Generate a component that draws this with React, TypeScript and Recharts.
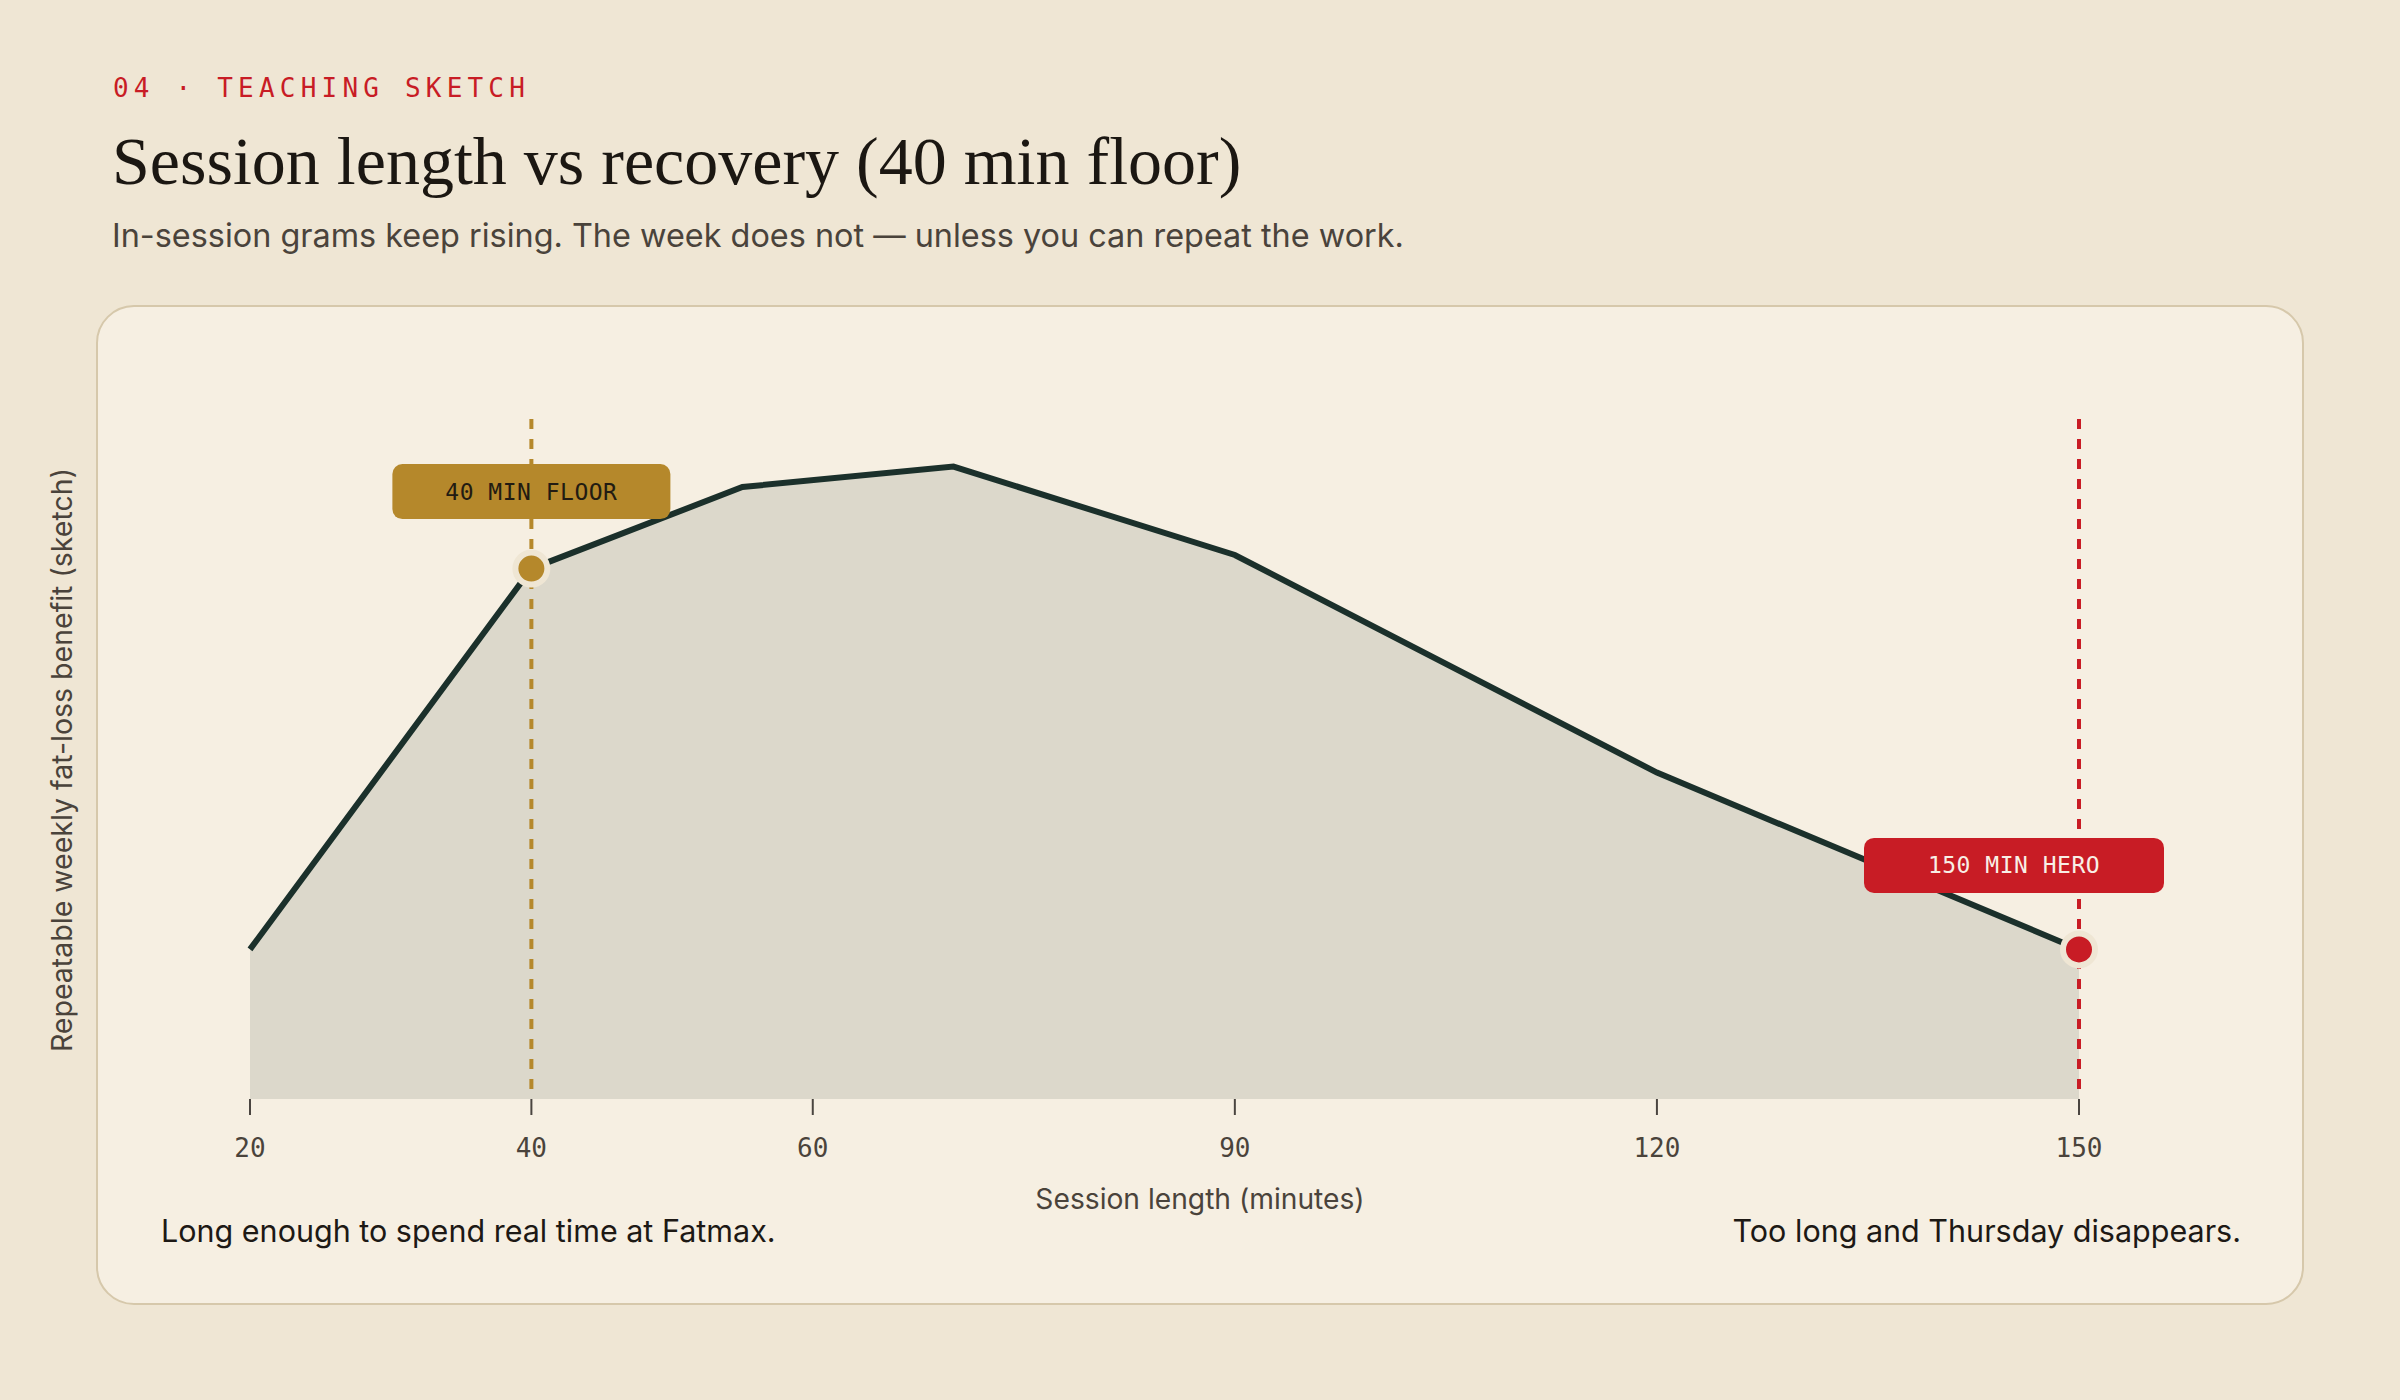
import React from 'react'
import {
  ComposedChart,
  Area,
  XAxis,
  YAxis,
  ReferenceLine,
  ReferenceDot,
  Label,
} from 'recharts'

// session length (minutes) and sketched weekly benefit
const minutes = [20, 40, 55, 70, 90, 120, 150]
const benefit = [22, 78, 90, 93, 80, 48, 22]
const xTicks = [20, 40, 60, 90, 120, 150]

const floorMin = 40
const heroMin = 150
const floorLabel = '40 MIN FLOOR'
const heroLabel = '150 MIN HERO'

const data = minutes.map((m, i) => ({ min: m, benefit: benefit[i] }))
const valueAt = (m: number) => benefit[minutes.indexOf(m)]

const PAGE_BG = '#efe6d4'
const CARD_BG = '#f6efe2'
const INK = '#1b302b'
const GOLD = '#b5882b'
const RED = '#c81c25'
const MONO = '"DejaVu Sans Mono", monospace'
const SANS = 'Inter, "Noto Sans", sans-serif'

function Badge(props: any) {
  const { viewBox, text, bg, color, dx, dy, w } = props
  if (!viewBox) return null
  const cx = viewBox.x + viewBox.width / 2 + dx
  const cy = viewBox.y + viewBox.height / 2 + dy
  const h = 55
  return (
    <g>
      <rect x={cx - w / 2} y={cy - h / 2} width={w} height={h} rx={10} fill={bg} />
      <text
        x={cx}
        y={cy + 8}
        textAnchor="middle"
        fontFamily={MONO}
        fontSize={23}
        letterSpacing={0.5}
        fill={color}
      >
        {text}
      </text>
    </g>
  )
}

export default function App() {
  return (
    <div
      style={{
        position: 'absolute',
        left: 0,
        top: 0,
        width: 2400,
        height: 1400,
        background: PAGE_BG,
        overflow: 'hidden',
      }}
    >
      <div
        style={{
          position: 'absolute',
          left: 113,
          top: 75,
          fontFamily: MONO,
          fontSize: 26,
          lineHeight: 1,
          letterSpacing: '0.2em',
          color: RED,
          whiteSpace: 'nowrap',
        }}
      >
        04 · TEACHING SKETCH
      </div>
      <div
        style={{
          position: 'absolute',
          left: 112,
          top: 127,
          fontFamily: '"Liberation Serif", serif',
          fontSize: 68,
          lineHeight: 1,
          color: '#1b1712',
          whiteSpace: 'nowrap',
        }}
      >
        Session length vs recovery (40 min floor)
      </div>
      <div
        style={{
          position: 'absolute',
          left: 112,
          top: 220,
          fontFamily: SANS,
          fontSize: 32.4,
          lineHeight: 1,
          color: '#4a433b',
          whiteSpace: 'nowrap',
        }}
      >
        In-session grams keep rising. The week does not — unless you can repeat the work.
      </div>

      <div
        style={{
          position: 'absolute',
          left: 96,
          top: 305,
          width: 2208,
          height: 1000,
          boxSizing: 'border-box',
          border: '2px solid #d6c8ab',
          borderRadius: 38,
          background: CARD_BG,
        }}
      />

      <div
        style={{
          position: 'absolute',
          left: 161,
          top: 1216,
          fontFamily: SANS,
          fontSize: 30.5,
          lineHeight: 1,
          color: '#1d1915',
          whiteSpace: 'nowrap',
        }}
      >
        Long enough to spend real time at Fatmax.
      </div>
      <div
        style={{
          position: 'absolute',
          right: 2400 - 2241,
          top: 1216,
          fontFamily: SANS,
          fontSize: 30.5,
          lineHeight: 1,
          color: '#1d1915',
          whiteSpace: 'nowrap',
        }}
      >
        Too long and Thursday disappears.
      </div>

      <div style={{ position: 'absolute', left: 0, top: 0 }}>
        <ComposedChart
          width={2400}
          height={1400}
          data={data}
          margin={{ top: 419, right: 321, bottom: 181, left: 100 }}
        >
          <XAxis
            type="number"
            dataKey="min"
            domain={[20, 150]}
            ticks={xTicks}
            height={120}
            axisLine={false}
            tickLine={{ stroke: '#4a4540', strokeWidth: 2 }}
            tickSize={16}
            tickMargin={24}
            tick={{ fill: '#4a433b', fontSize: 26, fontFamily: MONO }}
          >
            <Label
              content={(p: any) => (
                <text
                  x={1200}
                  y={p.viewBox.y + 110}
                  textAnchor="middle"
                  fontFamily={SANS}
                  fontSize={28.2}
                  fill="#4a433b"
                >
                  Session length (minutes)
                </text>
              )}
            />
          </XAxis>
          <YAxis
            type="number"
            domain={[0, 100]}
            width={150}
            tick={false}
            axisLine={false}
            tickLine={false}
          >
            <Label
              content={(p: any) => {
                const cy = p.viewBox.y + p.viewBox.height / 2 + 1
                return (
                  <text
                    x={72}
                    y={cy}
                    transform={`rotate(-90, 72, ${cy})`}
                    textAnchor="middle"
                    fontFamily={SANS}
                    fontSize={28.5}
                    fill="#4a433b"
                  >
                    Repeatable weekly fat-loss benefit (sketch)
                  </text>
                )
              }}
            />
          </YAxis>
          <Area
            type="linear"
            dataKey="benefit"
            stroke={INK}
            strokeWidth={6}
            fill="#dcd8cb"
            fillOpacity={1}
            dot={false}
            activeDot={false}
            isAnimationActive={false}
          />
          <ReferenceLine
            x={floorMin}
            stroke={GOLD}
            strokeWidth={4}
            strokeDasharray="10 10"
            strokeDashoffset={10}
          />
          <ReferenceLine
            x={heroMin}
            stroke={RED}
            strokeWidth={4}
            strokeDasharray="10 10"
            strokeDashoffset={10}
          />
          <ReferenceDot
            x={floorMin}
            y={valueAt(floorMin)}
            r={16}
            fill={GOLD}
            stroke="#efe6d4"
            strokeWidth={6}
            label={(p: any) => (
              <Badge {...p} text={floorLabel} bg={GOLD} color="#221b12" dx={0} dy={-77} w={278} />
            )}
          />
          <ReferenceDot
            x={heroMin}
            y={valueAt(heroMin)}
            r={16}
            fill={RED}
            stroke="#efe6d4"
            strokeWidth={6}
            label={(p: any) => (
              <Badge {...p} text={heroLabel} bg={RED} color="#f8efe6" dx={-65} dy={-84} w={300} />
            )}
          />
        </ComposedChart>
      </div>
    </div>
  )
}
